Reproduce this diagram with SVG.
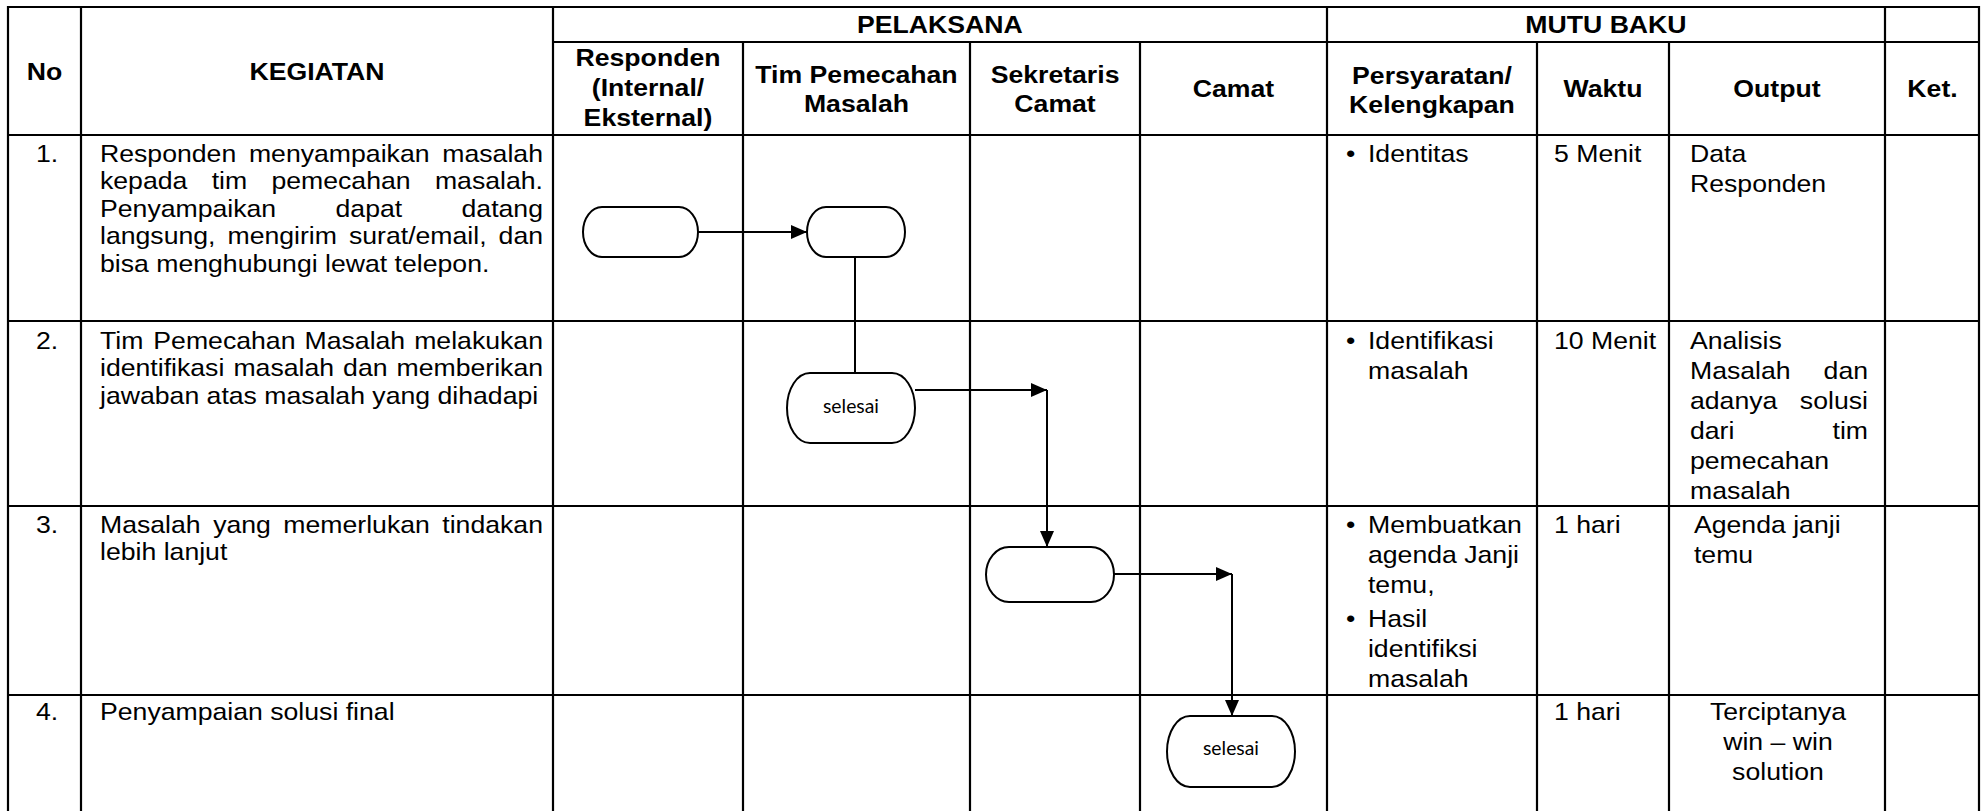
<svg xmlns="http://www.w3.org/2000/svg" width="1982" height="811" viewBox="0 0 1982 811">
<defs>
<style>
.grid line{stroke:#000;stroke-width:2.2}
text{font-family:"Liberation Sans",Arial,sans-serif;fill:#000}
.h{font-weight:bold;font-size:24px;text-anchor:middle}
.b{font-size:24px}
.c{text-anchor:middle}
.node rect{fill:#fff;stroke:#000;stroke-width:2}
.lbl{font-family:Lato,"Open Sans",sans-serif;font-size:19px;text-anchor:middle}
.conn line{stroke:#000;stroke-width:2}
</style>
<marker id="arr" markerUnits="userSpaceOnUse" markerWidth="16" markerHeight="14" refX="16" refY="7" orient="auto"><path d="M0,0L16,7L0,14Z" fill="#000"/></marker>
</defs>
<rect width="1982" height="811" fill="#fff"/>
<g id="grid" class="grid">
<line x1="7" y1="7" x2="1980" y2="7"/>
<line x1="553" y1="42" x2="1980" y2="42"/>
<line x1="7" y1="135" x2="1980" y2="135"/>
<line x1="7" y1="321" x2="1980" y2="321"/>
<line x1="7" y1="506" x2="1980" y2="506"/>
<line x1="7" y1="695" x2="1980" y2="695"/>
<line x1="8" y1="6" x2="8" y2="811"/>
<line x1="81" y1="6" x2="81" y2="811"/>
<line x1="553" y1="6" x2="553" y2="811"/>
<line x1="1327" y1="6" x2="1327" y2="811"/>
<line x1="1885" y1="6" x2="1885" y2="811"/>
<line x1="1979" y1="6" x2="1979" y2="811"/>
<line x1="743" y1="42" x2="743" y2="811"/>
<line x1="970" y1="42" x2="970" y2="811"/>
<line x1="1140" y1="42" x2="1140" y2="811"/>
<line x1="1537" y1="42" x2="1537" y2="811"/>
<line x1="1669" y1="42" x2="1669" y2="811"/>
</g>
<g id="texts" transform="scale(1.11,1)">
<g id="header">
<text class="h" x="846.8" y="33">PELAKSANA</text>
<text class="h" x="1446.8" y="33">MUTU BAKU</text>
<text class="h" x="40.1" y="80">No</text>
<text class="h" x="285.6" y="80">KEGIATAN</text>
<text class="h" x="583.8" y="66">Responden</text>
<text class="h" x="583.8" y="96">(Internal/</text>
<text class="h" x="583.8" y="126">Eksternal)</text>
<text class="h" x="771.6" y="83">Tim Pemecahan</text>
<text class="h" x="771.6" y="112">Masalah</text>
<text class="h" x="950.5" y="83">Sekretaris</text>
<text class="h" x="950.5" y="112">Camat</text>
<text class="h" x="1111.3" y="97">Camat</text>
<text class="h" x="1290.1" y="84">Persyaratan/</text>
<text class="h" x="1290.1" y="113">Kelengkapan</text>
<text class="h" x="1444.1" y="97">Waktu</text>
<text class="h" x="1600.9" y="97">Output</text>
<text class="h" x="1741" y="97">Ket.</text>
</g>
<g id="row1" class="b">
<text x="32.4" y="162">1.</text>
<text y="162"><tspan x="90.09">Responden</tspan><tspan x="224.28">menyampaikan</tspan><tspan x="398.47">masalah</tspan></text>
<text y="189.5"><tspan x="90.09">kepada</tspan><tspan x="190.69">tim</tspan><tspan x="244.54">pemecahan</tspan><tspan x="391.81">masalah.</tspan></text>
<text y="217"><tspan x="90.09">Penyampaikan</tspan><tspan x="302.3">dapat</tspan><tspan x="415.81">datang</tspan></text>
<text y="244.5"><tspan x="90.09">langsung,</tspan><tspan x="204.93">mengirim</tspan><tspan x="314.36">surat/email,</tspan><tspan x="449.2">dan</tspan></text>
<text x="90.09" y="272">bisa menghubungi lewat telepon.</text>
<text x="1212.6" y="162">•</text>
<text x="1232.4" y="162">Identitas</text>
<text x="1400" y="162">5 Menit</text>
<text x="1522.5" y="162">Data</text>
<text x="1522.5" y="192">Responden</text>
</g>
<g id="row2" class="b">
<text x="32.4" y="349">2.</text>
<text y="349"><tspan x="90.09">Tim</tspan><tspan x="138.17">Pemecahan</tspan><tspan x="274.36">Masalah</tspan><tspan x="373.16">melakukan</tspan></text>
<text y="376.5"><tspan x="90.09">identifikasi</tspan><tspan x="210.27">masalah</tspan><tspan x="309.1">dan</tspan><tspan x="357.21">memberikan</tspan></text>
<text x="90.09" y="404">jawaban atas masalah yang dihadapi</text>
<text x="1212.6" y="349">•</text>
<text x="1232.4" y="349">Identifikasi</text>
<text x="1232.4" y="379">masalah</text>
<text x="1400" y="349">10 Menit</text>
<text x="1522.5" y="349">Analisis</text>
<text y="379"><tspan x="1522.5">Masalah</tspan><tspan x="1642.9">dan</tspan></text>
<text y="409"><tspan x="1522.5">adanya</tspan><tspan x="1621.5">solusi</tspan></text>
<text y="439"><tspan x="1522.5">dari</tspan><tspan x="1650.9">tim</tspan></text>
<text x="1522.5" y="469">pemecahan</text>
<text x="1522.5" y="499">masalah</text>
</g>
<g id="row3" class="b">
<text x="32.4" y="533">3.</text>
<text y="533"><tspan x="90.09">Masalah</tspan><tspan x="192.01">yang</tspan><tspan x="255.28">memerlukan</tspan><tspan x="398.46">tindakan</tspan></text>
<text x="90.09" y="560.5">lebih lanjut</text>
<text x="1212.6" y="533">•</text>
<text x="1232.4" y="533">Membuatkan</text>
<text x="1232.4" y="563">agenda Janji</text>
<text x="1232.4" y="593">temu,</text>
<text x="1212.6" y="627">•</text>
<text x="1232.4" y="627">Hasil</text>
<text x="1232.4" y="657">identifiksi</text>
<text x="1232.4" y="687">masalah</text>
<text x="1400" y="533">1 hari</text>
<text x="1526.1" y="533">Agenda janji</text>
<text x="1526.1" y="563">temu</text>
</g>
<g id="row4" class="b">
<text x="32.4" y="720">4.</text>
<text x="90.09" y="720">Penyampaian solusi final</text>
<text x="1400" y="720">1 hari</text>
<text class="c" x="1601.8" y="720">Terciptanya</text>
<text class="c" x="1601.8" y="750">win – win</text>
<text class="c" x="1601.8" y="780">solution</text>
</g>
</g>
<g id="connectors" class="conn">
<line x1="698" y1="232" x2="807" y2="232" marker-end="url(#arr)"/>
<line x1="855" y1="257" x2="855" y2="373"/>
<line x1="915" y1="390" x2="1047" y2="390" marker-end="url(#arr)"/>
<line x1="1047" y1="390" x2="1047" y2="547" marker-end="url(#arr)"/>
<line x1="1114" y1="574" x2="1232" y2="574" marker-end="url(#arr)"/>
<line x1="1232" y1="574" x2="1232" y2="716" marker-end="url(#arr)"/>
</g>
<g id="node-resp-start" class="node"><rect x="583" y="207" width="115" height="50" rx="19" ry="25"/></g>
<g id="node-tim-receive" class="node"><rect x="807" y="207" width="98" height="50" rx="19" ry="25"/></g>
<g id="node-tim-selesai" class="node"><rect x="787" y="373" width="128" height="70" rx="23" ry="35"/><text class="lbl" x="851" y="413" textLength="56" lengthAdjust="spacingAndGlyphs">selesai</text></g>
<g id="node-sekcam" class="node"><rect x="986" y="547" width="128" height="55" rx="23" ry="27.5"/></g>
<g id="node-camat-selesai" class="node"><rect x="1167" y="716" width="128" height="71" rx="23" ry="35.5"/><text class="lbl" x="1231" y="755" textLength="56" lengthAdjust="spacingAndGlyphs">selesai</text></g>
</svg>
